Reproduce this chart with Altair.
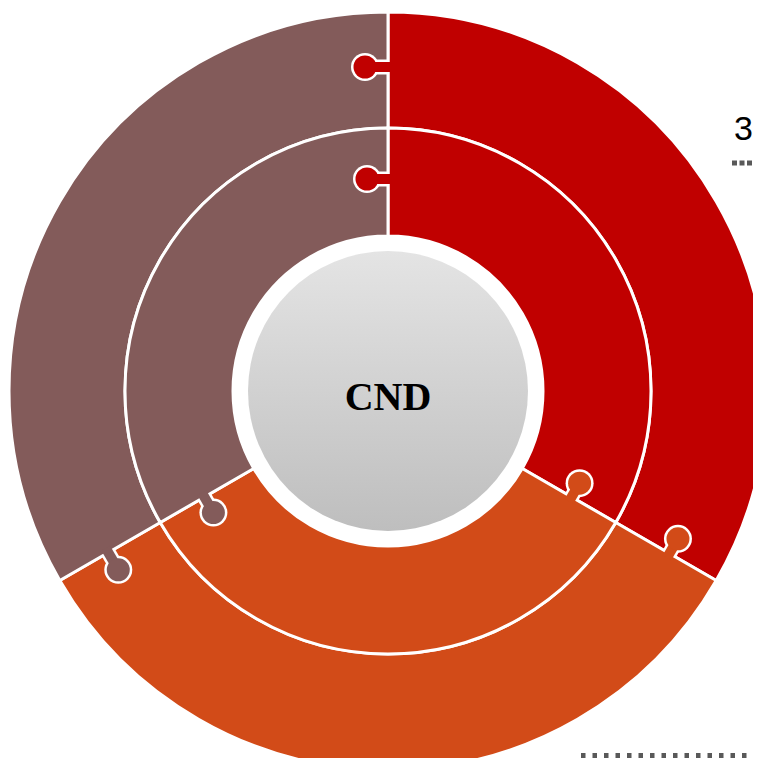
import altair as alt
import pandas as pd

# ---- data ----
pieces = ["Rouge", "Orange", "Brun"]
shares = [1, 1, 1]
piece_colors = ["#C00000", "#D24B18", "#835B5A"]

center_label = "CND"
side_label = "3"

# puzzle knobs: boundary angle (deg, clockwise from top), distance from centre,
# tangential offset, and the piece the knob belongs to
knob_angle = [0, 0, 120, 120, 240, 240]
knob_radius = [324, 212, 325, 212, 323, 212]
knob_offset = [-23, -21, -17, -16, -20, -18]
knob_piece = ["Rouge", "Rouge", "Orange", "Orange", "Brun", "Brun"]

# dotted leader lines (partly outside the view)
lead_x = [344, 193]
lead_x2 = [365, 365]
lead_y = [-228, 364.5]
lead_dash = [[5, 2.5], [4.5, 7]]

# ---- layout ----
W, H = 745, 750
X0, Y0 = 380, 383  # centre of the donut within the plot
xs = alt.Scale(domain=[-X0, W - X0], zero=False, nice=False)
ys = alt.Scale(domain=[-Y0, H - Y0], zero=False, nice=False, reverse=True)
cs = alt.Scale(domain=pieces, range=piece_colors)

ring_df = pd.DataFrame({"piece": pieces, "value": shares, "idx": list(range(len(pieces)))})
knob_df = pd.DataFrame({"angle": knob_angle, "r": knob_radius, "t": knob_offset, "piece": knob_piece})
hub_df = pd.DataFrame({"v": [1]})
lab_df = pd.DataFrame({"label": [center_label]})
side_df = pd.DataFrame({"label": [side_label], "x": [346], "y": [-251]})
lead_df = pd.DataFrame({"x": lead_x, "x2": lead_x2, "y": lead_y, "k": [0, 1]})

cx = alt.X(datum=0, scale=xs, axis=None)
cy = alt.Y(datum=0, scale=ys, axis=None)


def ring(r_out, r_in):
    return alt.Chart(ring_df).mark_arc(
        radius=r_out, radius2=r_in, stroke="white", strokeWidth=3
    ).encode(
        theta=alt.Theta("value:Q", stack=True),
        order=alt.Order("idx:Q"),
        color=alt.Color("piece:N", scale=cs, legend=None),
        x=cx, y=cy,
    )


outer = ring(379, 263)
inner = ring(263, 155)

hub = alt.Chart(hub_df).mark_arc(
    radius=140, theta=0, theta2=6.2832,
    color=alt.Gradient(
        gradient="linear",
        stops=[alt.GradientStop(color="#E4E4E4", offset=0),
               alt.GradientStop(color="#BEBEBE", offset=1)],
        x1=0, x2=0, y1=0, y2=1,
    ),
).encode(x=cx, y=cy)

label = alt.Chart(lab_df).mark_text(
    font="Liberation Serif", fontWeight="bold", fontSize=40, color="black",
    align="center", baseline="alphabetic",
).encode(text="label:N", x=alt.X(datum=0, scale=xs, axis=None),
         y=alt.Y(datum=19, scale=ys, axis=None))

kb = alt.Chart(knob_df).transform_calculate(
    a="datum.angle * PI / 180",
).transform_calculate(
    kx="datum.r * sin(datum.a) + datum.t * cos(datum.a)",
    ky="-datum.r * cos(datum.a) + datum.t * sin(datum.a)",
    bx="datum.r * sin(datum.a)",
    by="-datum.r * cos(datum.a)",
    ix="datum.r * sin(datum.a) + 5 * cos(datum.a)",
    iy="-datum.r * cos(datum.a) + 5 * sin(datum.a)",
)

neck_white = kb.mark_rule(color="white", strokeWidth=15, strokeCap="butt").encode(
    x=alt.X("bx:Q", scale=xs, axis=None), y=alt.Y("by:Q", scale=ys, axis=None),
    x2="kx:Q", y2="ky:Q")
ball_white = kb.mark_circle(color="white", opacity=1, size=28 * 28).encode(
    x=alt.X("kx:Q", scale=xs, axis=None), y=alt.Y("ky:Q", scale=ys, axis=None))
neck_col = kb.mark_rule(strokeWidth=10, strokeCap="butt").encode(
    x=alt.X("ix:Q", scale=xs, axis=None), y=alt.Y("iy:Q", scale=ys, axis=None),
    x2="kx:Q", y2="ky:Q",
    color=alt.Color("piece:N", scale=cs, legend=None))
ball_col = kb.mark_circle(opacity=1, size=23 * 23).encode(
    x=alt.X("kx:Q", scale=xs, axis=None), y=alt.Y("ky:Q", scale=ys, axis=None),
    color=alt.Color("piece:N", scale=cs, legend=None))

side = alt.Chart(side_df).mark_text(
    font="Liberation Sans", fontSize=34, color="black", align="left", baseline="alphabetic"
).encode(text="label:N", x=alt.X("x:Q", scale=xs, axis=None), y=alt.Y("y:Q", scale=ys, axis=None))

leads = []
for i in range(len(lead_x)):
    leads.append(
        alt.Chart(lead_df[lead_df.k == i]).mark_rule(
            color="#595959", strokeWidth=5, strokeDash=lead_dash[i], strokeCap="butt"
        ).encode(x=alt.X("x:Q", scale=xs, axis=None), x2="x2:Q",
                 y=alt.Y("y:Q", scale=ys, axis=None))
    )

chart = alt.layer(
    outer, inner, hub, label, neck_white, ball_white, neck_col, ball_col, side, *leads
).properties(
    width=W, height=H, padding=0, autosize=alt.AutoSizeParams(type="none"),
    background="white",
).configure_view(stroke=None)

chart.save("out.html", embed_options={"renderer": "svg", "actions": False})
